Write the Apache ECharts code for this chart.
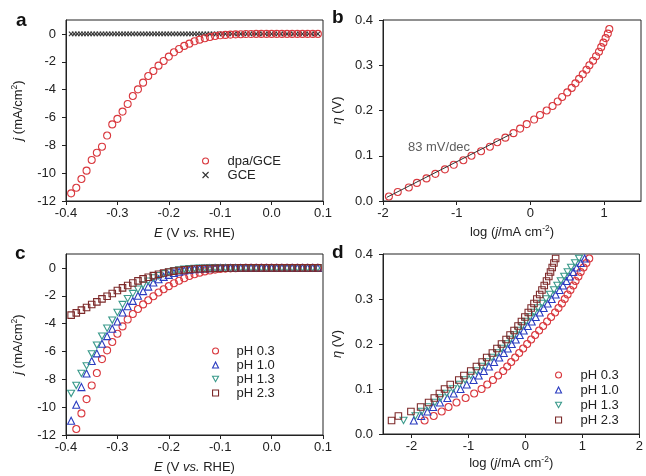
<!DOCTYPE html>
<html><head><meta charset="utf-8">
<script src="https://cdn.jsdelivr.net/npm/echarts@6/dist/echarts.min.js"></script>
<style>html,body{margin:0;padding:0;background:#fff}#c{width:646px;height:476px}</style>
</head><body><div id="c"></div><script>
// ---------- Panel a ----------
const E_a = [-0.39,-0.38,-0.37,-0.36,-0.35,-0.34,-0.33,-0.32,-0.31,-0.30,-0.29,-0.28,-0.27,-0.26,-0.25,-0.24,-0.23,-0.22,-0.21,-0.20,-0.19,-0.18,-0.17,-0.16,-0.15,-0.14,-0.13,-0.12,-0.11,-0.10,-0.09,-0.08,-0.07,-0.06,-0.05,-0.04,-0.03,-0.02,-0.01,0.00,0.01,0.02,0.03,0.04,0.05,0.06,0.07,0.08,0.09];
const j_dpa = [-11.45,-11.05,-10.42,-9.82,-9.05,-8.53,-8.10,-7.30,-6.50,-6.10,-5.58,-5.03,-4.46,-3.98,-3.50,-3.02,-2.66,-2.28,-1.94,-1.63,-1.32,-1.08,-0.86,-0.70,-0.53,-0.41,-0.31,-0.22,-0.15,-0.10,-0.07,-0.05,-0.03,-0.02,-0.01,-0.01,0,0,0,0,0,0,0,0,0,0,0,0,0];
const E_gce = [-0.39,-0.384,-0.378,-0.372,-0.366,-0.36,-0.354,-0.348,-0.342,-0.336,-0.33,-0.324,-0.318,-0.312,-0.306,-0.3,-0.294,-0.288,-0.282,-0.276,-0.27,-0.264,-0.258,-0.252,-0.246,-0.24,-0.234,-0.228,-0.222,-0.216,-0.21,-0.204,-0.198,-0.192,-0.186,-0.18,-0.174,-0.168,-0.162,-0.156,-0.15,-0.144,-0.138,-0.132,-0.126,-0.12,-0.114,-0.108,-0.102,-0.096,-0.09,-0.084,-0.078,-0.072,-0.066,-0.06,-0.054,-0.048,-0.042,-0.036,-0.03,-0.024,-0.018,-0.012,-0.006,0,0.006,0.012,0.018,0.024,0.03,0.036,0.042,0.048,0.054,0.06,0.066,0.072,0.078,0.084,0.09];
const j_gce = [0,0,0,0,0,0,0,0,0,0, 0,0,0,0,0,0,0,0,0,0, 0,0,0,0,0,0,0,0,0,0, 0,0,0,0,0,0,0,0,0,0, 0,0,0,0,0,0,0,0,0,0, 0,0,0,0,0,0,0,0,0,0, 0,0,0,0,0,0,0,0,0,0, 0,0,0,0,0,0,0,0,0,0, 0];

// ---------- Panel b ----------
const eta_b = [0.01,0.02,0.03,0.04,0.05,0.06,0.07,0.08,0.09,0.10,0.11,0.12,0.13,0.14,0.15,0.16,0.17,0.18,0.19,0.20,0.21,0.22,0.23,0.24,0.25,0.26,0.27,0.28,0.29,0.30,0.31,0.32,0.33,0.34,0.35,0.36,0.37,0.38];
const logj_b = [-1.92,-1.80,-1.65,-1.54,-1.41,-1.29,-1.16,-1.04,-0.91,-0.80,-0.67,-0.55,-0.45,-0.34,-0.23,-0.14,-0.05,0.05,0.13,0.22,0.30,0.37,0.43,0.50,0.56,0.61,0.66,0.71,0.76,0.80,0.85,0.89,0.93,0.96,0.99,1.02,1.05,1.07];
const fit_b_x = [-1.95,-0.25];
const fit_b_y = [0.008,0.149];
const fit_label = '83 mV/dec';
const fit_label_pos = [-1.24,0.118];

// ---------- Panel c ----------
const E_c = E_a.slice();
const j_c_03 = [null,-11.57,-10.45,-9.42,-8.44,-7.55,-6.55,-5.92,-5.32,-4.73,-4.20,-3.70,-3.31,-2.95,-2.62,-2.32,-2.03,-1.76,-1.53,-1.31,-1.10,-0.92,-0.74,-0.58,-0.45,-0.34,-0.25,-0.18,-0.12,-0.08,-0.05,-0.03,-0.02,-0.01,0,0,0,0,0,0,0,0,0,0,0,0,0,0,0];
const j_c_10 = [-10.98,-9.83,-8.56,-7.58,-6.69,-6.14,-5.45,-4.90,-4.37,-3.85,-3.20,-2.75,-2.37,-2.00,-1.67,-1.34,-1.05,-0.81,-0.64,-0.50,-0.37,-0.27,-0.19,-0.13,-0.09,-0.06,-0.04,-0.02,-0.01,0,0,0,0,0,0,0,0,0,0,0,0,0,0,0,0,0,0,0,0];
const j_c_13 = [-9.01,-8.44,-7.58,-7.03,-6.17,-5.55,-4.90,-4.33,-3.75,-3.20,-2.63,-2.20,-1.84,-1.53,-1.22,-0.95,-0.72,-0.55,-0.42,-0.30,-0.21,-0.14,-0.09,-0.06,-0.04,-0.02,-0.01,0,0,0,0,0,0,0,0,0,0,0,0,0,0,0,0,0,0,0,0,0,0];
const j_c_23 = [-3.39,-3.23,-3.03,-2.84,-2.63,-2.44,-2.22,-2.03,-1.84,-1.62,-1.43,-1.26,-1.08,-0.93,-0.79,-0.67,-0.55,-0.45,-0.36,-0.29,-0.23,-0.18,-0.14,-0.11,-0.08,-0.06,-0.05,-0.04,-0.03,-0.02,-0.02,-0.01,-0.01,0,0,0,0,0,0,0,0,0,0,0,0,0,0,0,0];

// ---------- Panel d ----------
const eta_d = [0.03,0.04,0.05,0.06,0.07,0.08,0.09,0.10,0.11,0.12,0.13,0.14,0.15,0.16,0.17,0.18,0.19,0.20,0.21,0.22,0.23,0.24,0.25,0.26,0.27,0.28,0.29,0.30,0.31,0.32,0.33,0.34,0.35,0.36,0.37,0.38,0.39];
const logj_d_03 = [-1.77,-1.61,-1.47,-1.35,-1.21,-1.05,-0.90,-0.77,-0.67,-0.57,-0.48,-0.39,-0.32,-0.25,-0.18,-0.11,-0.04,0.03,0.10,0.17,0.24,0.31,0.38,0.45,0.52,0.58,0.64,0.69,0.74,0.79,0.84,0.88,0.93,0.97,1.02,1.07,1.12];
const logj_d_10 = [-1.96,-1.83,-1.72,-1.62,-1.50,-1.37,-1.26,-1.14,-1.03,-0.91,-0.82,-0.73,-0.64,-0.55,-0.46,-0.38,-0.31,-0.24,-0.17,-0.10,-0.03,0.04,0.11,0.18,0.25,0.32,0.39,0.46,0.53,0.60,0.66,0.72,0.78,0.84,0.90,0.97,1.04];
const logj_d_13 = [-2.14,-1.93,-1.82,-1.71,-1.59,-1.49,-1.38,-1.27,-1.16,-1.06,-0.96,-0.86,-0.77,-0.68,-0.59,-0.50,-0.42,-0.34,-0.27,-0.20,-0.13,-0.06,0.01,0.08,0.15,0.22,0.29,0.36,0.43,0.50,0.56,0.62,0.68,0.74,0.80,0.87,0.94];
const logj_d_23 = [-2.35,-2.23,-2.01,-1.84,-1.70,-1.60,-1.51,-1.42,-1.32,-1.17,-1.08,-0.96,-0.86,-0.76,-0.68,-0.58,-0.50,-0.42,-0.34,-0.27,-0.20,-0.13,-0.07,-0.01,0.05,0.10,0.15,0.20,0.25,0.29,0.33,0.37,0.41,0.44,0.47,0.50,0.53];

const names_a = ['dpa/GCE','GCE'];
const names_pH = ['pH 0.3','pH 1.0','pH 1.3','pH 2.3'];

// ---------- styling ----------
const FONT = '"Liberation Sans", Arial, sans-serif';
const INK = '#222';
const RED = '#d9383e', BLUE = '#2b3cc0', GREEN = '#3a9a8b', BROWN = '#7d2a2a';
const SYM = {
  circle: {symbol:'circle', symbolSize:7},
  up: {symbol:'triangle', symbolSize:7},
  down: {symbol:'path://M0,0L10,0L5,9Z', symbolSize:[7,6.3]},
  square: {symbol:'rect', symbolSize:6.5},
  cross: {symbol:'path://M0,0L10,10M10,0L0,10', symbolSize:4.5}
};
function zip(xs, ys){ const out=[]; for(let i=0;i<xs.length;i++){ if(xs[i]!==null && ys[i]!==null) out.push([xs[i], ys[i]]); } return out; }
function sc(name, gi, data, sym, color, z){
  return Object.assign({type:'scatter', name, xAxisIndex:gi, yAxisIndex:gi, data,
    itemStyle:{color:'rgba(0,0,0,0)', borderColor:color, borderWidth:1.1, opacity:1},
    emphasis:{disabled:true}, silent:true, animation:false, z:z||2}, sym);
}
const rich = {
  n:{fontSize:13, color:INK, fontFamily:FONT, lineHeight:16},
  i:{fontSize:13, color:INK, fontFamily:FONT, fontStyle:'italic', lineHeight:16},
  s:{fontSize:8.5, color:INK, fontFamily:FONT, verticalAlign:'top', lineHeight:16, padding:[0,0,0,0]}
};
function axisBase(){
  return {
    axisLine:{show:true, onZero:false, lineStyle:{color:INK, width:1}},
    axisTick:{show:true, inside:false, length:4, lineStyle:{color:INK, width:1}},
    splitLine:{show:false},
    axisLabel:{color:INK, fontSize:13, fontFamily:FONT},
    nameLocation:'middle',
    nameTextStyle:{fontSize:13, color:INK, fontFamily:FONT, rich}
  };
}
function xa(gi, min, max, extra){ const a = axisBase(); a.type='value'; a.gridIndex=gi; a.min=min; a.max=max; return Object.assign(a, extra); }
function ya(gi, min, max, extra){ const a = axisBase(); a.type='value'; a.gridIndex=gi; a.min=min; a.max=max; return Object.assign(a, extra); }
const fmt1 = v => v.toFixed(1);
const fmt0 = v => String(Math.round(v));
const legText = pad => ({fontSize:13, color:INK, fontFamily:FONT, lineHeight:14, padding:[0,0,0,pad]});
const legItem = {borderWidth:1.1};

const gridStyle = {show:true, borderColor:INK, borderWidth:1, containLabel:false};
const option = {
  backgroundColor:'#fff',
  animation:false,
  grid:[
    Object.assign({left:66, top:20, width:257, height:181}, gridStyle),
    Object.assign({left:383, top:20, width:258, height:181}, gridStyle),
    Object.assign({left:66, top:254, width:257, height:181}, gridStyle),
    Object.assign({left:383, top:254, width:258, height:180}, gridStyle)
  ],
  xAxis:[
    xa(0,-0.4,0.1,{interval:0.1, axisLabel:Object.assign(axisBase().axisLabel,{formatter:fmt1, margin:6}), name:'{i|E}{n| (V }{i|vs.}{n| RHE)}', nameGap:24}),
    xa(1,-2,1.5,{interval:1, axisLabel:Object.assign(axisBase().axisLabel,{formatter:fmt0, margin:6, showMaxLabel:false}), name:'{n|log (}{i|j}{n|/mA cm}{s|-2}{n|)}', nameGap:23}),
    xa(2,-0.4,0.1,{interval:0.1, axisLabel:Object.assign(axisBase().axisLabel,{formatter:fmt1, margin:6}), name:'{i|E}{n| (V }{i|vs.}{n| RHE)}', nameGap:24}),
    xa(3,-2.5,2,{splitNumber:4, axisLabel:Object.assign(axisBase().axisLabel,{formatter:fmt0, margin:6, showMinLabel:false}), name:'{n|log (}{i|j}{n|/mA cm}{s|-2}{n|)}', nameGap:21})
  ],
  yAxis:[
    ya(0,-12,1,{interval:2, axisLabel:Object.assign(axisBase().axisLabel,{formatter:fmt0, margin:10, showMaxLabel:false}), name:'{i|j}{n| (mA/cm}{s|2}{n|)}', nameGap:40}),
    ya(1,0,0.4,{interval:0.1, axisLabel:Object.assign(axisBase().axisLabel,{formatter:fmt1, margin:10}), name:'{i|η}{n| (V)}', nameGap:38}),
    ya(2,-12,1,{interval:2, axisLabel:Object.assign(axisBase().axisLabel,{formatter:fmt0, margin:10, showMaxLabel:false}), name:'{i|j}{n| (mA/cm}{s|2}{n|)}', nameGap:40}),
    ya(3,0,0.4,{interval:0.1, axisLabel:Object.assign(axisBase().axisLabel,{formatter:fmt1, margin:10}), name:'{i|η}{n| (V)}', nameGap:38})
  ],
  legend:[
    {orient:'vertical', left:202, top:154, padding:0, itemGap:0, itemWidth:6, itemHeight:6, selectedMode:false,
      itemStyle:legItem, textStyle:legText(14), data:names_a},
    {orient:'vertical', left:212, top:344, padding:0, itemGap:0, itemWidth:6, itemHeight:6, selectedMode:false,
      itemStyle:legItem, textStyle:legText(13), data:names_pH},
    {orient:'vertical', left:555, top:368, padding:0, itemGap:1, itemWidth:6, itemHeight:6, selectedMode:false,
      itemStyle:legItem, textStyle:legText(14), data:names_pH}
  ],
  series:[
    sc('GCE',0,zip(E_gce,j_gce),SYM.cross,'#333',2),
    sc('dpa/GCE',0,zip(E_a,j_dpa),SYM.circle,RED,3),
    sc('dpa/GCE ',1,zip(logj_b,eta_b),SYM.circle,RED,3),
    {type:'line', xAxisIndex:1, yAxisIndex:1, data:zip(fit_b_x,fit_b_y), showSymbol:false, symbol:'none',
      lineStyle:{color:'#333', width:1}, silent:true, animation:false, z:4},
    {type:'scatter', xAxisIndex:1, yAxisIndex:1, data:[fit_label_pos], symbolSize:0, silent:true, animation:false,
      label:{show:true, position:'inside', formatter:fit_label, color:'#333', fontSize:13, fontFamily:FONT}},
    sc('pH 0.3',2,zip(E_c,j_c_03),SYM.circle,RED,2),
    sc('pH 1.0',2,zip(E_c,j_c_10),SYM.up,BLUE,3),
    sc('pH 1.3',2,zip(E_c,j_c_13),SYM.down,GREEN,4),
    sc('pH 2.3',2,zip(E_c,j_c_23),SYM.square,BROWN,5),
    sc('pH 0.3',3,zip(logj_d_03,eta_d),SYM.circle,RED,2),
    sc('pH 1.0',3,zip(logj_d_10,eta_d),SYM.up,BLUE,3),
    sc('pH 1.3',3,zip(logj_d_13,eta_d),SYM.down,GREEN,4),
    sc('pH 2.3',3,zip(logj_d_23,eta_d),SYM.square,BROWN,5)
  ],
  graphic:[
    {type:'text', left:16, top:11, style:{text:'a', font:'bold 19px '+FONT, fill:'#111'}},
    {type:'text', left:332, top:8, style:{text:'b', font:'bold 19px '+FONT, fill:'#111'}},
    {type:'text', left:15, top:244, style:{text:'c', font:'bold 19px '+FONT, fill:'#111'}},
    {type:'text', left:332, top:243, style:{text:'d', font:'bold 19px '+FONT, fill:'#111'}}
  ]
};
const chart = echarts.init(document.getElementById('c'), null, {renderer:'canvas'});
chart.setOption(option);
</script></body></html>
